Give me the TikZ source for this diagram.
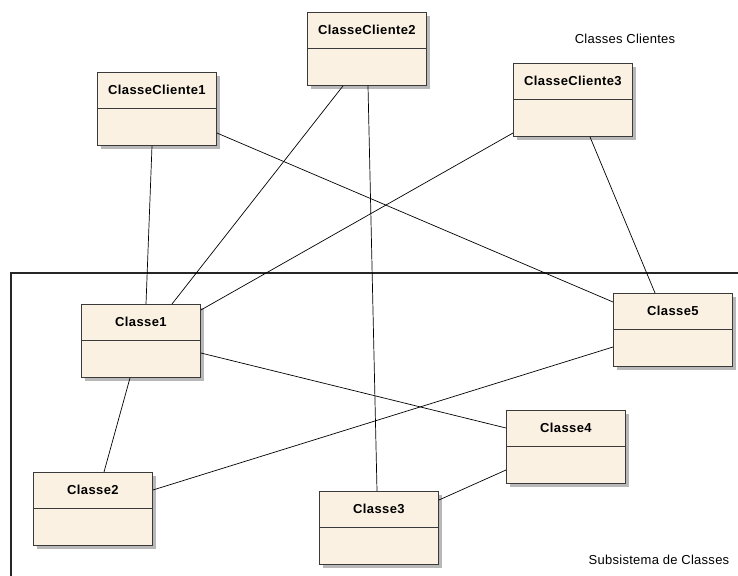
\documentclass[tikz,border=0pt]{standalone}
\usepackage{fontspec}
\setmainfont{Liberation Sans}
\usetikzlibrary{calc,shadows}
\definecolor{classfill}{HTML}{FBF1E2}
\definecolor{classline}{HTML}{3A3A3A}
\tikzset{
  cls/.style={draw=classline, fill=classfill, line width=0.9pt, rectangle,
    inner sep=0pt, anchor=north west, minimum width=119pt, minimum height=73pt,
    drop shadow={shadow xshift=3.5pt, shadow yshift=-3.5pt, fill=black!28, opacity=1}},
  clstitle/.style={font=\fontsize{13}{15}\selectfont\bfseries\addfontfeatures{LetterSpace=3}, inner sep=0pt},
  divider/.style={draw=classline, line width=0.9pt},
  assoc/.style={draw=black, line width=0.7pt},
  frame/.style={draw=black!85, line width=1.3pt},
  caption/.style={font=\fontsize{13}{15}\selectfont\addfontfeatures{LetterSpace=2}, inner sep=0pt}
}
\newcommand\umlclass[4]{%
  \node[cls] (#1) at (#2,#3) {};
  \node[clstitle] (#1-t) at ($(#1.north)+(0,18)$) {#4};
  \draw[divider] ($(#1.north west)+(0,36)$) -- ($(#1.north east)+(0,36)$);
}
\begin{document}
\begin{tikzpicture}[x=1pt,y=-1pt]
\useasboundingbox (0,0) rectangle (738,575);

% package frame of the subsystem
\coordinate (fbl) at (11,580);
\coordinate (ftl) at (11,273);
\coordinate (ftr) at (745,273);
\draw[frame] (fbl) -- (ftl) -- (ftr);

\node[caption] (lblclients) at (625,39) {Classes Clientes};
\node[caption] (lblsub) at (659,560) {Subsistema de Classes};

% classes
\umlclass{cc1}{97}{72}{ClasseCliente1}
\umlclass{cc2}{307}{12}{ClasseCliente2}
\umlclass{cc3}{513}{63}{ClasseCliente3}
\umlclass{c1}{81}{304}{Classe1}
\umlclass{c5}{613}{293}{Classe5}
\umlclass{c4}{506}{410}{Classe4}
\umlclass{c2}{33}{472}{Classe2}
\umlclass{c3}{319}{491}{Classe3}

% associations
\draw[assoc] ($(cc1.south west)+(55,0)$) -- ($(c1.north west)+(65,0)$);
\draw[assoc] ($(cc1.north east)+(0,61)$) -- ($(c5.north west)+(0,9)$);
\draw[assoc] ($(cc2.south west)+(36,0)$) -- ($(c1.north west)+(91,0)$);
\draw[assoc] ($(cc2.south west)+(61,0)$) -- ($(c3.north west)+(58,0)$);
\draw[assoc] ($(cc3.north west)+(0,70)$) -- ($(c1.north east)+(0,6)$);
\draw[assoc] ($(cc3.south west)+(77,0)$) -- ($(c5.north west)+(42,0)$);
\draw[assoc] ($(c1.north east)+(0,49)$) -- ($(c4.north west)+(0,18)$);
\draw[assoc] ($(c1.south west)+(49,0)$) -- ($(c2.north west)+(71,0)$);
\draw[assoc] ($(c5.north west)+(0,54)$) -- ($(c2.north east)+(0,18)$);
\draw[assoc] ($(c4.north west)+(0,60)$) -- ($(c3.north east)+(0,9)$);
\end{tikzpicture}
\end{document}
